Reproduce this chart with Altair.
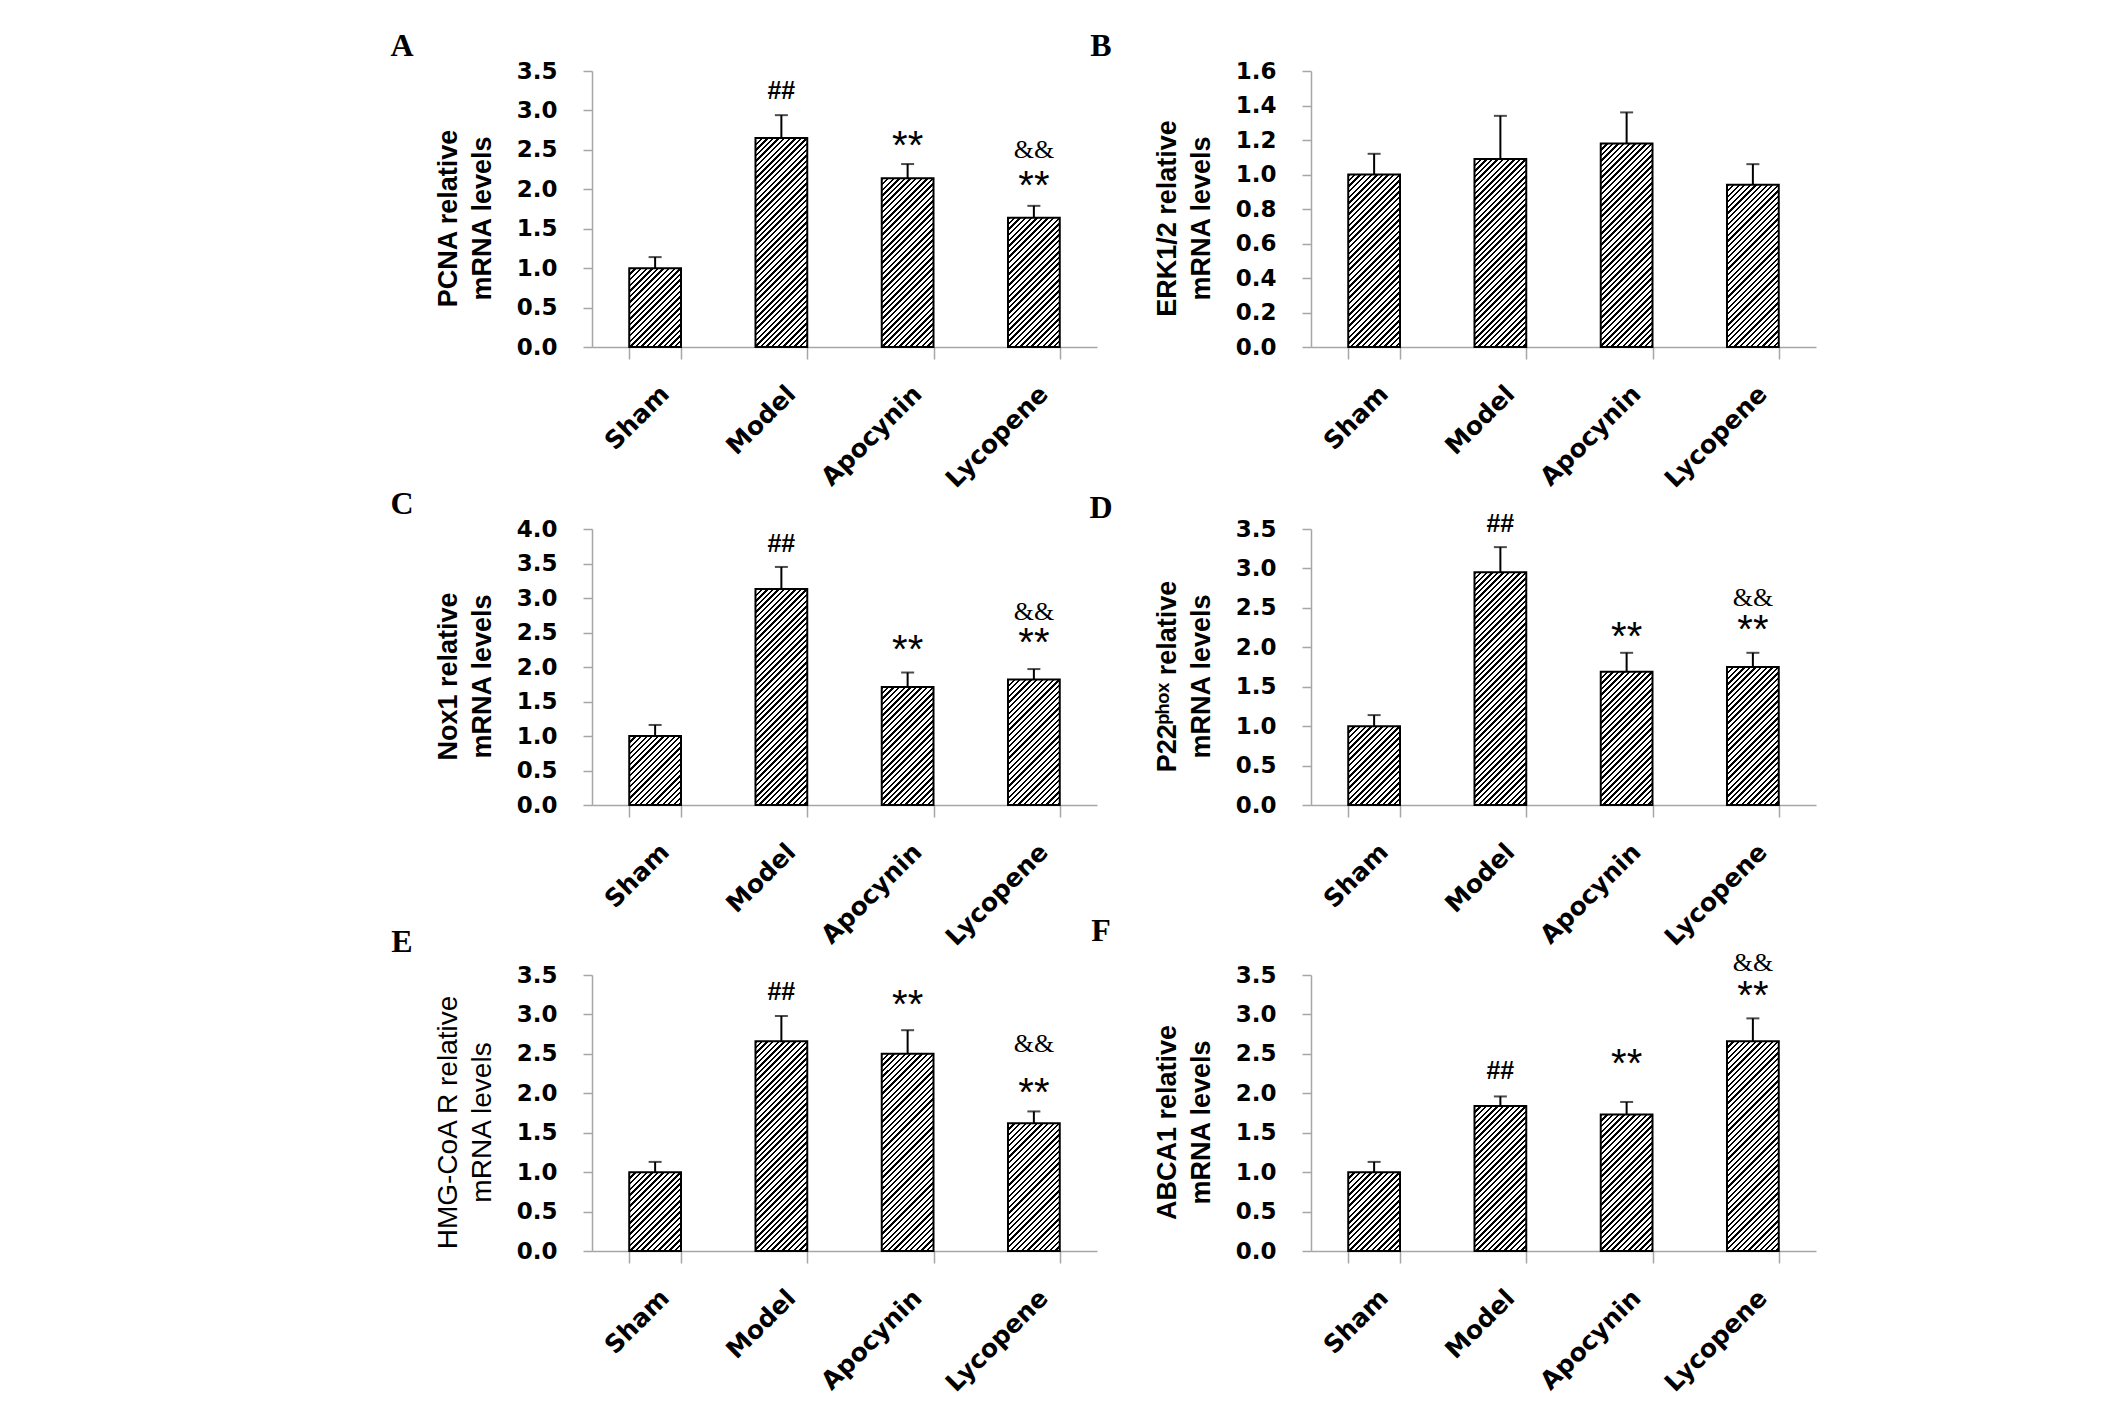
import altair as alt
import pandas as pd

GROUPS = ["Sham", "Model", "Apocynin", "Lycopene"]

PCNA = [1.00, 2.65, 2.14, 1.64]
PCNA_ERR = [0.14, 0.29, 0.18, 0.15]
ERK = [1.00, 1.09, 1.18, 0.94]
ERK_ERR = [0.12, 0.25, 0.18, 0.12]
NOX1 = [1.00, 3.13, 1.71, 1.82]
NOX1_ERR = [0.16, 0.32, 0.21, 0.15]
P22 = [1.00, 2.95, 1.69, 1.75]
P22_ERR = [0.14, 0.32, 0.24, 0.18]
HMG = [1.00, 2.66, 2.50, 1.62]
HMG_ERR = [0.13, 0.32, 0.30, 0.15]
ABCA1 = [1.00, 1.84, 1.73, 2.66]
ABCA1_ERR = [0.13, 0.12, 0.16, 0.29]

# significance marks: (group, symbol, y position in data units)
ANN_A = [("Model", "##", 3.25), ("Apocynin", "**", 2.66), ("Lycopene", "&&", 2.50), ("Lycopene", "**", 2.15)]
ANN_B = []
ANN_C = [("Model", "##", 3.78), ("Apocynin", "**", 2.37), ("Lycopene", "&&", 2.80), ("Lycopene", "**", 2.48)]
ANN_D = [("Model", "##", 3.56), ("Apocynin", "**", 2.24), ("Lycopene", "&&", 2.63), ("Lycopene", "**", 2.33)]
ANN_E = [("Model", "##", 3.28), ("Apocynin", "**", 3.23), ("Lycopene", "&&", 2.63), ("Lycopene", "**", 2.12)]
ANN_F = [("Model", "##", 2.28), ("Apocynin", "**", 2.49), ("Lycopene", "&&", 3.65), ("Lycopene", "**", 3.35)]

TICKS_35 = [0, 0.5, 1.0, 1.5, 2.0, 2.5, 3.0, 3.5]
TICKS_16 = [0, 0.2, 0.4, 0.6, 0.8, 1.0, 1.2, 1.4, 1.6]
TICKS_40 = [0, 0.5, 1.0, 1.5, 2.0, 2.5, 3.0, 3.5, 4.0]

PW, PH = 505, 276
PAD_INNER = 0.59
BAR_W = PW / 4 * (1 - PAD_INNER)
PERIOD = 5.6
INK = 0.42
GRAY = "#a6a6a6"


def hatch(h_px):
    W = BAR_W
    H = max(h_px, 1.0)
    a = (W + H) / (W * W + H * H)
    n = (W + H) / PERIOD
    stops = []
    k = 0
    while k < n:
        o0 = round(min(k / n, 1), 5)
        o1 = round(min((k + INK) / n, 1), 5)
        o2 = round(min((k + 1) / n, 1), 5)
        stops += [
            alt.GradientStop(offset=o0, color="black"),
            alt.GradientStop(offset=o1, color="black"),
            alt.GradientStop(offset=o1, color="white"),
            alt.GradientStop(offset=o2, color="white"),
        ]
        k += 1
    return alt.LinearGradient(gradient="linear", stops=stops, x1=0, y1=0,
                              x2=round(a * W, 5), y2=round(a * H, 5))


def panel(letter, title, vals, errs, ymax, ticks, ann, lx, ly, title_font_weight="bold", title_size=27):
    df = pd.DataFrame({"group": GROUPS, "value": vals, "err": errs})
    df["upper"] = df["value"] + df["err"]

    xaxis = alt.Axis(title=None, labelAngle=315, labelAlign="right", labelBaseline="top",
                     labelFont="DejaVu Sans", labelFontWeight="bold", labelFontSize=25,
                     labelColor="black", labelPadding=22, labelOffset=1,
                     tickBand="extent", tickSize=12, tickColor=GRAY, tickWidth=1.5,
                     domainColor=GRAY, domainWidth=1.5, grid=False)
    yaxis = alt.Axis(title=title, values=ticks, format=".1f",
                     labelFont="DejaVu Sans", labelFontWeight="bold", labelFontSize=23,
                     labelColor="black", labelPadding=26, tickSize=9, tickColor=GRAY,
                     tickWidth=1.5, domainColor=GRAY, domainWidth=1.5, grid=False,
                     titleFont="Liberation Sans", titleFontWeight=title_font_weight,
                     titleFontSize=title_size, titleColor="black", titleLineHeight=34,
                     titleAngle=270, titleAlign="center", titleBaseline="middle",
                     titleX=-144, titleY=PH / 2 + 9)
    xscale = alt.Scale(domain=GROUPS, paddingInner=PAD_INNER, paddingOuter=PAD_INNER / 2)
    yscale = alt.Scale(domain=[0, ymax], nice=False, zero=True)

    def X():
        return alt.X("group:N", sort=GROUPS, scale=xscale, axis=xaxis)

    def Y(field):
        return alt.Y(field, type="quantitative", scale=yscale, axis=yaxis)

    base = alt.Chart(df)
    layers = []
    for i, g in enumerate(GROUPS):
        hpx = vals[i] / ymax * PH
        layers.append(
            base.transform_filter(alt.datum.group == g)
            .mark_bar(fill=hatch(hpx), stroke="black", strokeWidth=2)
            .encode(x=X(), y=Y("value"))
        )
    layers.append(base.mark_rule(color="black", strokeWidth=2).encode(x=X(), y=Y("value"), y2="upper"))
    layers.append(base.mark_tick(color="black", thickness=2, size=13).encode(x=X(), y=Y("upper")))

    if ann:
        adf = pd.DataFrame(ann, columns=["group", "sym", "y"])
        styles = {
            "##": dict(font="Liberation Sans", fontWeight="bold", fontSize=25, dy=0),
            "**": dict(font="Liberation Sans", fontWeight="normal", fontSize=40, dy=10),
            "&&": dict(font="Liberation Serif", fontWeight="normal", fontSize=26, dy=0),
        }
        for sym, st in styles.items():
            sub = adf[adf["sym"] == sym]
            if len(sub) == 0:
                continue
            layers.append(
                alt.Chart(sub).mark_text(align="center", baseline="middle", color="black", **st)
                .encode(x=X(), y=Y("y"), text="sym:N")
            )

    ldf = pd.DataFrame({"t": [letter]})
    layers.append(
        alt.Chart(ldf).mark_text(font="Liberation Serif", fontWeight="bold", fontSize=32,
                                 align="center", baseline="middle", color="black")
        .encode(text="t:N", x=alt.value(lx), y=alt.value(ly))
    )
    return alt.layer(*layers).properties(width=PW, height=PH)


A = panel("A", ["PCNA relative", "mRNA levels"], PCNA, PCNA_ERR, 3.5, TICKS_35, ANN_A, -190, -25)
B = panel("B", ["ERK1/2 relative", "mRNA levels"], ERK, ERK_ERR, 1.6, TICKS_16, ANN_B, -210, -25)
C = panel("C", ["Nox1 relative", "mRNA levels"], NOX1, NOX1_ERR, 4.0, TICKS_40, ANN_C, -190, -25)
D = panel("D", ["P22\u1d56\u02b0\u1d52\u02e3 relative", "mRNA levels"], P22, P22_ERR, 3.5, TICKS_35, ANN_D, -210, -21)
E = panel("E", ["HMG-CoA R relative", "mRNA levels"], HMG, HMG_ERR, 3.5, TICKS_35, ANN_E, -190, -33,
          title_font_weight="normal", title_size=28)
F = panel("F", ["ABCA1 relative", "mRNA levels"], ABCA1, ABCA1_ERR, 3.5, TICKS_35, ANN_F, -210, -44)

# flush layout: nested columns place their plot areas exactly
left = alt.vconcat(A, alt.vconcat(C, E, spacing=170, bounds="flush"), spacing=182, bounds="flush")
right = alt.vconcat(B, alt.vconcat(D, F, spacing=170, bounds="flush"), spacing=182, bounds="flush")

chart = (
    alt.hconcat(left, right, spacing=PW + 214, bounds="flush")
    .properties(padding={"left": 382, "top": 22, "right": 5, "bottom": 5}, background="white")
    .configure_view(stroke=None)
)

chart.save("out.html", embed_options={"renderer": "svg", "actions": False})
